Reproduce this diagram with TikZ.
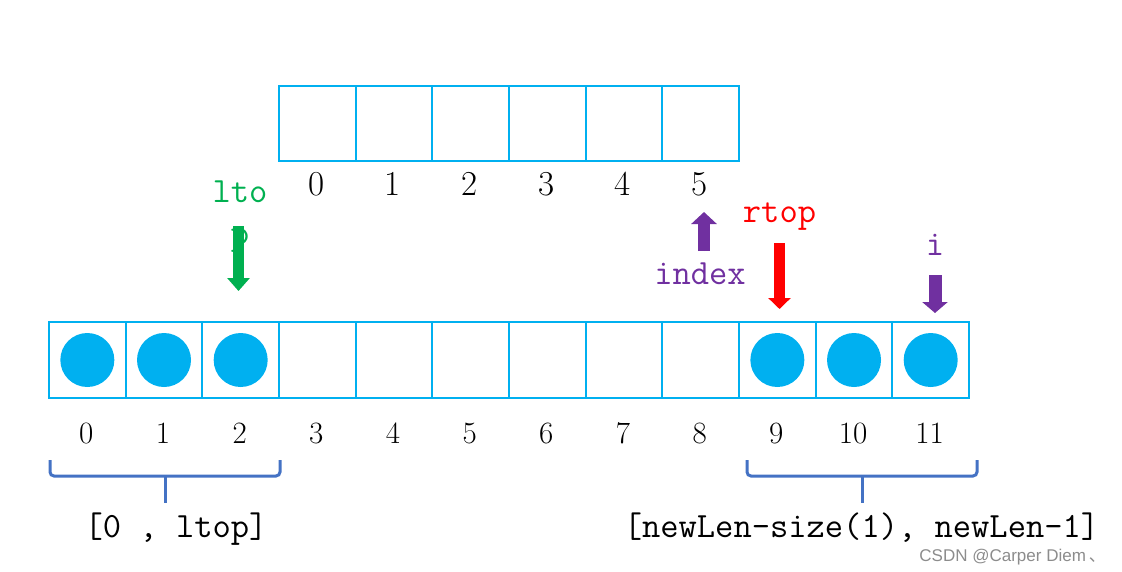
\documentclass[tikz,border=0pt]{standalone}
\usepackage{fontspec}
\newfontfamily\wmfont{Liberation Sans}
\newfontfamily\cjk{Noto Sans CJK SC}
\usetikzlibrary{arrows.meta}
\definecolor{cellblue}{HTML}{00B0F0}
\definecolor{tgreen}{HTML}{00B050}
\definecolor{tpurple}{HTML}{7030A0}
\definecolor{braceblue}{HTML}{4472C4}
\begin{document}
\begin{tikzpicture}[x=1pt,y=-1pt,
  cellbox/.style={draw=cellblue,line width=2pt,minimum width=76.67pt,minimum height=76pt,inner sep=0pt,anchor=north west},
  ball/.style={circle,fill=cellblue,minimum size=54pt,inner sep=0pt},
  topidx/.style={font=\fontsize{35}{40}\selectfont,anchor=base,inner sep=0pt},
  botidx/.style={font=\fontsize{31}{36}\selectfont,anchor=base,inner sep=0pt},
  monolab/.style={font=\ttfamily\fontsize{35.5}{40}\selectfont,anchor=base,inner sep=0pt},
  blockarrow/.style={line width=11pt,-{Triangle[width=23pt,length=12pt]}},
  bracestyle/.style={draw=braceblue,line width=3pt,rounded corners=4pt}]
\useasboundingbox (0,0) rectangle (1122,571);
% top array
\foreach \k in {0,...,5}{
  \node[cellbox,minimum height=75pt] (t\k) at (278+76.67*\k,85) {};
  \node[topidx] (ti\k) at (316.3+76.67*\k,195) {\k};
}
% bottom array
\foreach \k in {0,...,11}{
  \node[cellbox] (b\k) at (48+76.67*\k,321) {};
  \node[botidx] (bi\k) at (86.3+76.67*\k,443) {\k};
}
\foreach \k in {0,1,2,9,10,11}{
  \node[ball] (c\k) at (b\k.center) {};
}
% ltop pointer
\node[monolab,text=tgreen] (lto) at (240,202) {lto};
\node[monolab,text=tgreen] (ltp) at (240,244) {p};
\coordinate (ls) at (238.5,226);
\coordinate (le) at (238.5,291);
\draw[blockarrow,draw=tgreen,fill=tgreen,-{Triangle[width=22pt,length=13pt]}] (ls) -- (le);
% index pointer
\node[monolab,text=tpurple] (idx) at (700,284) {index};
\coordinate (is) at (704,251);
\coordinate (ie) at (704,212);
\draw[blockarrow,line width=12pt,draw=tpurple,fill=tpurple,-{Triangle[width=25pt,length=12pt]}] (is) -- (ie);
% rtop pointer
\node[monolab,text=red] (rtop) at (779.5,222) {rtop};
\coordinate (rs) at (779.5,243);
\coordinate (re) at (779.5,309);
\draw[blockarrow,draw=red,fill=red,-{Triangle[width=22pt,length=11pt]}] (rs) -- (re);
% i pointer
\node[monolab,text=tpurple] (inode) at (935,255) {i};
\coordinate (ps) at (935,275);
\coordinate (pe) at (935,313);
\draw[blockarrow,line width=13pt,draw=tpurple,fill=tpurple,-{Triangle[width=25pt,length=11pt]}] (ps) -- (pe);
% braces
\coordinate (lb1) at (50,460);
\coordinate (lb2) at (280,460);
\coordinate (lbm) at (165,503);
\draw[bracestyle] (lb1) -- (50,476) -- (280,476) -- (lb2);
\draw[draw=braceblue,line width=3pt] (165,476) -- (lbm);
\coordinate (rb1) at (747,460);
\coordinate (rb2) at (977,460);
\coordinate (rbm) at (862,503);
\draw[bracestyle] (rb1) -- (747,476) -- (977,476) -- (rb2);
\draw[draw=braceblue,line width=3pt] (862,476) -- (rbm);
% range labels
\node[monolab] (lrange) at (176,537) {[0 , ltop]};
\node[monolab] (rrange) at (861.5,537) {[newLen-size(1), newLen-1]};
% watermark
\node[anchor=base east,inner sep=0pt,text=black!45,font=\wmfont\fontsize{17}{20}\selectfont] (wm) at (1106,561) {CSDN @Carper Diem\,{\cjk 、}};
\end{tikzpicture}
\end{document}
